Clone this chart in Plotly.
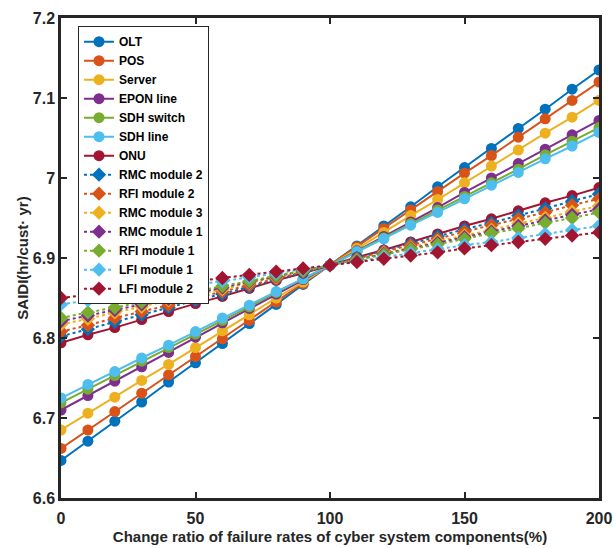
import plotly.graph_objects as go

x_vals = list(range(0, 201, 10))

names = ["OLT", "POS", "Server", "EPON line", "SDH switch", "SDH line", "ONU",
         "RMC module 2", "RFI module 2", "RMC module 3", "RMC module 1",
         "RFI module 1", "LFI module 1", "LFI module 2"]

olt = [6.647, 6.671, 6.696, 6.720, 6.745, 6.769, 6.793, 6.818, 6.842, 6.867, 6.891,
       6.915, 6.940, 6.964, 6.989, 7.013, 7.037, 7.062, 7.086, 7.111, 7.135]
pos = [6.662, 6.685, 6.708, 6.731, 6.754, 6.777, 6.799, 6.822, 6.845, 6.868, 6.891,
       6.914, 6.937, 6.960, 6.983, 7.006, 7.028, 7.051, 7.074, 7.097, 7.120]
server = [6.685, 6.706, 6.726, 6.747, 6.767, 6.788, 6.809, 6.829, 6.850, 6.870, 6.891,
          6.912, 6.932, 6.953, 6.973, 6.994, 7.015, 7.035, 7.056, 7.076, 7.097]
epon = [6.710, 6.728, 6.746, 6.764, 6.782, 6.801, 6.819, 6.837, 6.855, 6.873, 6.891,
        6.909, 6.927, 6.945, 6.963, 6.982, 7.000, 7.018, 7.036, 7.054, 7.072]
sdh_switch = [6.719, 6.736, 6.753, 6.771, 6.788, 6.805, 6.822, 6.839, 6.857, 6.874, 6.891,
              6.908, 6.925, 6.943, 6.960, 6.977, 6.994, 7.011, 7.029, 7.046, 7.063]
sdh_line = [6.725, 6.742, 6.758, 6.775, 6.791, 6.808, 6.825, 6.841, 6.858, 6.874, 6.891,
            6.908, 6.924, 6.941, 6.957, 6.974, 6.991, 7.007, 7.024, 7.040, 7.057]
onu = [6.794, 6.804, 6.813, 6.823, 6.833, 6.843, 6.852, 6.862, 6.872, 6.881, 6.891,
       6.901, 6.910, 6.920, 6.930, 6.940, 6.949, 6.959, 6.969, 6.978, 6.988]
rmc2 = [6.802, 6.811, 6.820, 6.829, 6.838, 6.847, 6.855, 6.864, 6.873, 6.882, 6.891,
        6.900, 6.909, 6.918, 6.927, 6.936, 6.944, 6.953, 6.962, 6.971, 6.980]
rfi2 = [6.808, 6.816, 6.825, 6.833, 6.841, 6.850, 6.858, 6.866, 6.874, 6.883, 6.891,
        6.899, 6.908, 6.916, 6.924, 6.933, 6.941, 6.949, 6.957, 6.966, 6.974]
rmc3 = [6.817, 6.824, 6.832, 6.839, 6.847, 6.854, 6.861, 6.869, 6.876, 6.884, 6.891,
        6.898, 6.906, 6.913, 6.921, 6.928, 6.935, 6.943, 6.950, 6.958, 6.965]
rmc1 = [6.821, 6.828, 6.835, 6.842, 6.849, 6.856, 6.863, 6.870, 6.877, 6.884, 6.891,
        6.898, 6.905, 6.912, 6.919, 6.926, 6.933, 6.940, 6.947, 6.954, 6.961]
rfi1 = [6.825, 6.832, 6.838, 6.845, 6.851, 6.858, 6.865, 6.871, 6.878, 6.884, 6.891,
        6.898, 6.904, 6.911, 6.917, 6.924, 6.931, 6.937, 6.944, 6.950, 6.957]
lfi1 = [6.842, 6.847, 6.852, 6.857, 6.862, 6.867, 6.871, 6.876, 6.881, 6.886, 6.891,
        6.896, 6.901, 6.906, 6.911, 6.916, 6.920, 6.925, 6.930, 6.935, 6.940]
lfi2 = [6.850, 6.854, 6.858, 6.862, 6.866, 6.871, 6.875, 6.879, 6.883, 6.887, 6.891,
        6.895, 6.899, 6.903, 6.907, 6.912, 6.916, 6.920, 6.924, 6.928, 6.932]

series = [olt, pos, server, epon, sdh_switch, sdh_line, onu,
          rmc2, rfi2, rmc3, rmc1, rfi1, lfi1, lfi2]

palette = ["#0072BD", "#D95319", "#EDB120", "#7E2F8E", "#77AC30", "#4DBEEE", "#A2142F"]

y_tickvals = [6.6, 6.7, 6.8, 6.9, 7.0, 7.1, 7.2]
y_ticktext = ["6.6", "6.7", "6.8", "6.9", "7", "7.1", "7.2"]
x_tickvals = [0, 50, 100, 150, 200]

fig = go.Figure()
for i, (name, ys) in enumerate(zip(names, series)):
    solid = i < 7
    color = palette[i % 7]
    fig.add_trace(go.Scatter(
        x=x_vals, y=ys, name=name, mode="lines+markers",
        line=dict(color=color, width=2, dash="solid" if solid else "dot"),
        marker=dict(color=color, size=11,
                    symbol="circle" if solid else "diamond"),
    ))

axis_color = "#262626"
fig.update_layout(
    width=613, height=548,
    margin=dict(l=61, r=14, t=18, b=50),
    plot_bgcolor="white", paper_bgcolor="white",
    font=dict(family="Liberation Sans, Arial, sans-serif", color=axis_color),
    showlegend=True,
    legend=dict(
        x=0.0316, y=0.983, xanchor="left", yanchor="top",
        bgcolor="white", bordercolor="#262626", borderwidth=1,
        font=dict(size=12, family="Liberation Sans, Arial, sans-serif", color="black", weight="bold"),
        tracegroupgap=0, itemwidth=30,
    ),
    xaxis=dict(
        range=[0, 200], tickvals=x_tickvals, ticks="inside", ticklen=6, tickwidth=2,
        tickcolor=axis_color, showline=True, linewidth=2.5, linecolor=axis_color,
        mirror="ticks", showgrid=False, zeroline=False, automargin=False,
        tickfont=dict(size=16, weight="bold"), ticklabelstandoff=4,
        title=dict(text="Change ratio of failure rates of cyber system components(%)",
                   font=dict(size=15, weight="bold"), standoff=6),
    ),
    yaxis=dict(
        range=[6.6, 7.2], tickvals=y_tickvals, ticktext=y_ticktext, ticks="inside",
        ticklen=6, tickwidth=2, tickcolor=axis_color, showline=True, linewidth=2.5,
        linecolor=axis_color, mirror="ticks", showgrid=False, zeroline=False,
        automargin=False,
        tickfont=dict(size=16, weight="bold"),
        title=dict(text="SAIDI(hr/cust· yr)", font=dict(size=15, weight="bold"), standoff=1),
    ),
)

fig.write_html("out.html", config={"displayModeBar": False},
               post_script="document.body.style.margin='0';document.body.style.padding='0';")
